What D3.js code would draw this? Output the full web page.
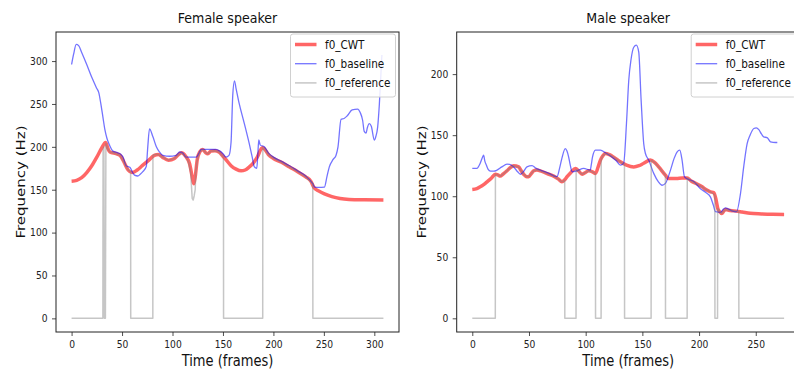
<!DOCTYPE html>
<html lang="en">
<head>
    <meta charset="UTF-8">
    <title>f0 comparison</title>
    <script src="https://d3js.org/d3.v7.min.js"></script>
    <style>
        body {
            margin: 0;
            background: #fff;
        }
        svg {
            display: block;
            font-family: "DejaVu Sans", sans-serif;
        }
        .tick text {
            font-size: 10.5px;
            fill: #222;
        }
        .axis-label {
            font-size: 15px;
            fill: #111;
        }
        .title {
            font-size: 14.5px;
            fill: #111;
        }
        .legend-text {
            font-size: 12px;
            fill: #111;
        }
    </style>
</head>
<body>
    <svg width="794" height="371"></svg>

    <script>
        // ---- data, [frame, Hz] ----
        const seriesNames = ["f0_CWT", "f0_baseline", "f0_reference"];

        const femaleTicksX = [0, 50, 100, 150, 200, 250, 300];
        const femaleTicksY = [0, 50, 100, 150, 200, 250, 300];
        const maleTicksX = [0, 50, 100, 150, 200, 250];
        const maleTicksY = [0, 50, 100, 150, 200];

        const femaleCwt = [
            [0,160],[5,161],[10,164],[15,170],[20,178],[25,188],[30,199],[33.7,205],[36,198],[38,194],
            [44,192],[48,190],[52,182],[56,173],[60,170],[65,173],[70,178],[76,184],[82,190],[86,191],
            [90,188],[96,184.5],[102,186.5],[106,191],[109,193],[113,189],[117,180],[119.5,165],[121,157],
            [122.5,165],[124.5,185],[127,194],[130,197],[133,193],[135,192],[138,195],[142,195.5],[146,194],
            [150,189],[153,185],[158,178],[163,174],[168,172],[172,173],[176,176.5],[180,181],[184,188],
            [189,199],[191.5,197],[195,191],[200,186.5],[208,182],[216,176.5],[224,171],[232,165],[237,160],
            [240.5,152],[245,148.5],[250,145.5],[258,142],[266,139.8],[275,138.7],[290,138.2],[309,138]
        ];

        const femaleBaseline = [
            [0,296],[2,308],[4.6,319.5],[7,318],[10,310],[15,296],[20,281],[25,268],[27,263],[29,250],
            [31,235],[33,220],[35,210],[37.6,202],[41,195],[45.8,193],[49,191],[51,188],[54,178],[58,176],
            [60,171],[62.4,167],[65.6,166],[68,168],[70.6,171],[74,177],[75.5,200],[77.2,221],[80.5,212],
            [84,200],[87,194],[90.4,190],[97,189],[103.6,190],[107,194],[110,193],[113.5,188],[118,188],
            [123.4,188],[126,192],[128.4,197],[135,197],[143,197],[147,195],[150,192],[153,188],[156,190],
            [158,205],[159.7,260],[161.4,277],[163,268],[166,251],[171,228],[176,204],[179,188],[181,177],
            [183.5,175],[184.5,190],[185.5,208],[187,202],[191,200],[195,193],[200,188],[208,183],[216,178],
            [224,172],[232,166],[239,157],[241,153],[245,152.7],[250.5,153],[253,165],[255.4,176.7],[259,185],
            [262,190],[264,200],[267,232],[270,233],[273,236],[278,243],[283.5,244],[286,240],[288.4,231],
            [290,218],[291.8,216],[293,222],[295,227],[297,224],[300,208],[301.5,212],[303.3,223],[305,250],
            [307.5,307]
        ];

        const femaleReference = [
            [0,0],[31,0],[31.2,196],[32,200],[32.5,0],[33.5,0],[34,204],[36,197],[38,194],[44,192],[48,190],
            [52,182],[56,173],[58.5,171],[58.6,0],[80.5,0],[80.6,190],[82,191],[86,191],[90,188],[96,184.5],
            [102,186.5],[106,191],[109,193],[113,189],[116,182],[118,170],[119.5,140],[120.5,138],[121.5,143],
            [122.5,150],[123,170],[124.5,185],[127,194],[130,197],[133,193],[135,192],[138,195],[142,195.5],
            [146,194],[150,189],[150.5,188],[150.6,0],[189.4,0],[189.5,199],[191.5,197],[195,191],[200,186.5],
            [208,182],[216,176.5],[224,171],[232,165],[239,157],[239.1,0],[309,0]
        ];

        const maleCwt = [
            [0,105.6],[4,106.3],[7,107.7],[10,109.5],[13,111.8],[17,115],[20.3,118],[22.5,117.5],[24.7,116.5],
            [27,118],[30.6,120.8],[33,123],[36.5,125],[40.9,124],[43,121],[45.3,118],[48,116],[49.7,116],
            [52,118.5],[54.2,120.8],[57,121.5],[60,120.8],[66,118.5],[71.8,116.5],[76,114],[79,111.8],
            [81.5,113.5],[83.6,116],[87,119.5],[91,122.8],[94,120.5],[96.8,118],[99,119],[102.7,120.8],
            [106,120],[108.6,118.7],[111,124],[113,129.6],[115,133],[117.4,135],[121,134],[124.7,132],
            [130.6,128.2],[136,125.5],[142.4,124],[147,125],[151.2,127],[157,129.6],[161,127.5],[164.4,124],
            [170.3,117.3],[173,114.6],[180,114.6],[185,115],[189.5,115],[193,112.5],[198.3,110],[202.7,107.7],
            [206,105.5],[210,103.6],[213,103],[215,97],[216.5,90],[218,87.5],[220,85.9],[222,88],[223.3,89.2],
            [226,88.5],[230.6,88],[238,87],[245,86],[255,85.5],[265,85.2],[275,85.1]
        ];

        const maleBaseline = [
            [0,122.8],[4,122.8],[7,127],[9,132],[10,133.7],[11,129],[12.4,125.5],[14,122],[16,120.6],[19,120.5],
            [21.8,121.4],[26,124],[30.6,126.3],[33,126],[36.5,124],[40,120],[42.4,118],[45,120],[48.2,124],
            [52.7,125],[56,123],[60,121.4],[67,119],[74.7,116],[77,123],[79,131],[82,139],[83.5,137],[85,132],
            [86.5,125],[88,120],[92.4,120.8],[98.2,122.8],[104,121.4],[105,126],[106,132],[108.6,137.8],
            [113,137.8],[117.4,135.6],[123.3,132],[127,129],[130.6,125.5],[133.5,127],[136,160],[138,195],
            [140,212],[142.4,222],[144.7,223.7],[146.8,218],[148.9,178.7],[151.2,143],[152.7,135],[155.6,129.6],
            [160,118.7],[164,112],[167.4,109],[170.3,110.5],[174.8,121.4],[178,131],[180.7,136.4],[183,137.8],
            [185,129.6],[187.1,116],[190,114],[195.3,112],[201,106.4],[206,103],[210,99.5],[212.5,93],
            [214.5,87.3],[219,86.8],[221,89],[223.3,90.5],[226,89.5],[229,88],[233,87.3],[236.5,102],
            [239.5,125],[242.4,143],[245,150],[248.3,155.5],[250.5,156],[252.7,154.5],[255,151],[257,148.6],
            [260,148],[263,144.6],[267.5,144],[269,144]
        ];

        const maleReference = [
            [0,0],[20.3,0],[20.4,118],[22.5,117.5],[24.7,116.5],[27,118],[30.6,120.8],[33,123],[36.5,125],
            [40.9,124],[43,121],[45.3,118],[48,116],[49.7,116],[52,118.5],[54.2,120.8],[57,121.5],[60,120.8],
            [66,118.5],[71.8,116.5],[76,114],[79,111.8],[81.5,113],[81.6,0],[91.5,0],[91.6,122],[94,120.5],
            [96.8,118],[99,119],[102.7,120.8],[106,120],[108.6,118.7],[108.7,0],[113.6,0],[113.7,130],[115,133],
            [117.4,135],[121,134],[124.7,132],[130.6,128.2],[134.2,126],[134.3,0],[157.7,0],[157.8,129.5],
            [161,127.5],[164.4,124],[170.3,117.3],[170.4,0],[189.5,0],[189.6,115],[193,112.5],[198.3,110],
            [202.7,107.7],[206,105.5],[210,103.6],[213.9,101],[214,0],[216.3,0],[216.4,90],[218,87.5],
            [220,85.9],[222,88],[223.3,89.2],[226,88.5],[230.6,88],[235,87.5],[235.1,0],[275,0]
        ];

        // ---- drawing ----
        const svg = d3.select("svg");
        const squash = 0.87; // reference text is a bit narrow

        const styles = [
            { color: "red", width: 3.5, opacity: 0.6, curve: d3.curveMonotoneX },
            { color: "blue", width: 1.3, opacity: 0.55, curve: d3.curveMonotoneX },
            { color: "gray", width: 1.5, opacity: 0.45, curve: d3.curveLinear }
        ];

        function drawPanel(p) {
            const x = d3.scaleLinear().domain(p.xDomain).range([p.left, p.right]);
            const y = d3.scaleLinear().domain(p.yDomain).range([p.bottom, p.top]);

            const g = svg.append("g");

            // clip to axes box
            g.append("clipPath").attr("id", p.id + "-clip")
                .append("rect")
                .attr("x", p.left).attr("y", p.top)
                .attr("width", p.right - p.left).attr("height", p.bottom - p.top);

            const plot = g.append("g").attr("clip-path", `url(#${p.id}-clip)`);

            p.series.forEach((data, i) => {
                const s = styles[i];
                const line = d3.line()
                    .x(d => x(d[0]))
                    .y(d => y(d[1]))
                    .curve(s.curve);
                plot.append("path")
                    .datum(data)
                    .attr("d", line)
                    .attr("fill", "none")
                    .attr("stroke", s.color)
                    .attr("stroke-opacity", s.opacity)
                    .attr("stroke-width", s.width)
                    .attr("stroke-linejoin", "round");
            });

            // axes
            const xAxis = g.append("g")
                .attr("transform", `translate(0, ${p.bottom})`)
                .call(d3.axisBottom(x).tickValues(p.ticksX).tickSize(4).tickPadding(4.5).tickSizeOuter(0));
            const yAxis = g.append("g")
                .attr("transform", `translate(${p.left}, 0)`)
                .call(d3.axisLeft(y).tickValues(p.ticksY).tickSize(4).tickPadding(4).tickSizeOuter(0));

            [xAxis, yAxis].forEach(a => {
                a.attr("font-family", null).attr("font-size", null);
                a.select(".domain").remove();
                a.selectAll(".tick line").attr("stroke", "#222").attr("stroke-width", 0.8);
                a.selectAll(".tick text").attr("transform", `scale(${squash},1)`);
            });
            yAxis.selectAll(".tick text").attr("x", -8.5 / squash);

            // frame
            g.append("rect")
                .attr("x", p.left).attr("y", p.top)
                .attr("width", p.right - p.left).attr("height", p.bottom - p.top)
                .attr("fill", "none")
                .attr("stroke", "#222")
                .attr("stroke-width", 1);

            // title and axis labels
            g.append("text")
                .attr("class", "title")
                .attr("text-anchor", "middle")
                .attr("transform", `translate(${(p.left + p.right) / 2}, 23) scale(${squash},1)`)
                .text(p.title);

            g.append("text")
                .attr("class", "axis-label")
                .attr("text-anchor", "middle")
                .attr("transform", `translate(${(p.left + p.right) / 2}, 366) scale(${squash},1)`)
                .text("Time (frames)");

            g.append("text")
                .attr("class", "axis-label")
                .attr("text-anchor", "middle")
                .attr("transform", `translate(${p.left - 31}, ${(p.top + p.bottom) / 2}) rotate(-90) scale(1,${squash})`)
                .text("Frequency (Hz)");

            // legend
            const lx = p.right - 108.5;
            const legend = g.append("g");
            legend.append("rect")
                .attr("x", lx).attr("y", p.top + 2)
                .attr("width", 105).attr("height", 63)
                .attr("rx", 2.5)
                .attr("fill", "#fff").attr("fill-opacity", 0.85)
                .attr("stroke", "#d0d0d0").attr("stroke-width", 1);

            seriesNames.forEach((name, i) => {
                const cy = p.top + 12.5 + i * 19.2;
                const s = styles[i];
                legend.append("line")
                    .attr("x1", lx + 4.5).attr("x2", lx + 26)
                    .attr("y1", cy).attr("y2", cy)
                    .attr("stroke", s.color)
                    .attr("stroke-opacity", s.opacity)
                    .attr("stroke-width", s.width);
                legend.append("text")
                    .attr("class", "legend-text")
                    .attr("transform", `translate(${lx + 34.5}, ${cy + 4.3}) scale(${squash},1)`)
                    .text(name);
            });
        }

        drawPanel({
            id: "female",
            title: "Female speaker",
            left: 56, right: 399, top: 32, bottom: 332,
            xDomain: [-15.45, 324.45],
            yDomain: [-15.9, 333.9],
            ticksX: femaleTicksX,
            ticksY: femaleTicksY,
            series: [femaleCwt, femaleBaseline, femaleReference]
        });

        drawPanel({
            id: "male",
            title: "Male speaker",
            left: 456.7, right: 799.7, top: 32, bottom: 332,
            xDomain: [-13.75, 288.75],
            yDomain: [-11.2, 234.5],
            ticksX: maleTicksX,
            ticksY: maleTicksY,
            series: [maleCwt, maleBaseline, maleReference]
        });
    </script>
</body>
</html>
